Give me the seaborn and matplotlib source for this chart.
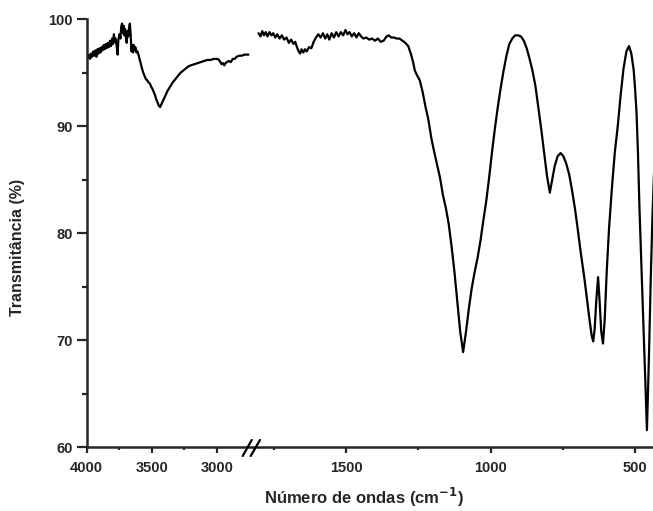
import matplotlib
matplotlib.use("Agg")
import matplotlib.pyplot as plt
import seaborn as sns
import pandas as pd
from matplotlib.lines import Line2D
from matplotlib.ticker import FixedLocator

# FTIR spectrum, high-wavenumber segment (cm-1, %T)
wn_high = [4000, 3990, 3980, 3972, 3964, 3956, 3948, 3940, 3932, 3924, 3916, 3908,
           3900, 3892, 3884, 3876, 3868, 3860, 3852, 3844, 3836, 3828, 3820, 3812,
           3804, 3796, 3790, 3784, 3778, 3770, 3762, 3756, 3748, 3740, 3734, 3728,
           3722, 3716, 3710, 3704, 3698, 3692, 3686, 3680, 3674, 3668, 3662, 3656,
           3650, 3644, 3638, 3632, 3626, 3618, 3610, 3602, 3594, 3585, 3575, 3565,
           3555, 3545, 3535, 3525, 3515, 3505, 3495, 3485, 3475, 3465, 3455, 3445,
           3436, 3425, 3410, 3395, 3380, 3360, 3340, 3320, 3300, 3280, 3260, 3240,
           3220, 3200, 3175, 3150, 3125, 3100, 3075, 3050, 3025, 3000, 2985, 2975,
           2965, 2955, 2945, 2935, 2925, 2910, 2895, 2880, 2865, 2850, 2830, 2810,
           2790, 2770, 2760]
t_high = [96.5, 96.4, 96.7, 96.3, 96.8, 96.5, 97.0, 96.6, 97.1, 96.5, 97.2, 96.8,
          97.3, 96.9, 97.4, 97.1, 97.6, 97.2, 97.7, 97.3, 97.8, 97.4, 98.0, 97.5,
          98.2, 97.7, 98.6, 97.9, 98.2, 97.6, 96.7, 98.1, 98.6, 98.2, 99.3, 99.6,
          98.7, 99.4, 98.5, 99.1, 98.3, 97.8, 98.9, 98.4, 99.2, 99.6, 98.6, 97.0,
          97.6, 96.9, 97.6, 97.1, 97.4, 96.9, 97.0, 96.7, 96.3, 95.9, 95.4, 95.0,
          94.7, 94.4, 94.3, 94.1, 94.0, 93.7, 93.5, 93.2, 92.9, 92.5, 92.2, 91.9,
          91.8, 92.1, 92.5, 92.9, 93.3, 93.7, 94.1, 94.4, 94.7, 95.0, 95.2, 95.4,
          95.6, 95.7, 95.8, 95.9, 96.0, 96.1, 96.2, 96.2, 96.3, 96.3, 96.2, 96.0,
          95.8, 95.9, 95.7, 95.9, 96.0, 96.1, 96.0, 96.3, 96.3, 96.5, 96.6, 96.6,
          96.7, 96.7, 96.7]

# FTIR spectrum, fingerprint segment (cm-1, %T)
wn_low = [1803, 1796, 1790, 1784, 1778, 1772, 1765, 1758, 1752, 1745, 1738, 1730,
          1722, 1714, 1706, 1698, 1690, 1682, 1676, 1670, 1664, 1659, 1654, 1648,
          1642, 1636, 1628, 1620, 1612, 1604, 1596, 1588, 1580, 1572, 1565, 1558,
          1550, 1542, 1534, 1526, 1518, 1510, 1502, 1495, 1488, 1480, 1472, 1464,
          1456, 1448, 1440, 1430, 1420, 1410, 1400, 1390, 1380, 1370, 1360, 1352,
          1344, 1335, 1325, 1315, 1305, 1295, 1285, 1276, 1268, 1262, 1255, 1245,
          1235, 1225, 1215, 1205, 1195, 1185, 1175, 1165, 1155, 1145, 1135, 1125,
          1115, 1105, 1095, 1085, 1075, 1065, 1055, 1045, 1035, 1025, 1015, 1005,
          995, 985, 975, 965, 955, 945, 935, 925, 915, 905, 895, 885, 875, 865,
          855, 845, 835, 825, 815, 805, 795, 787, 778, 768, 758, 748, 738, 728,
          718, 708, 698, 688, 678, 668, 658, 650, 645, 640, 634, 628, 623, 617,
          611, 605, 598, 590, 580, 570, 560, 550, 540, 530, 521, 513, 505, 500,
          495, 490, 485, 478, 471, 465, 459, 452, 446, 440, 434]
t_low = [98.7, 98.4, 98.9, 98.5, 98.8, 98.4, 98.8, 98.5, 98.7, 98.3, 98.6, 98.2,
         98.5, 98.1, 98.3, 97.8, 98.1, 97.7, 97.9, 97.4, 97.0, 96.8, 97.2, 96.9,
         97.2, 97.0, 97.4, 97.3, 97.9, 98.3, 98.6, 98.3, 98.7, 98.2, 98.6, 98.1,
         98.7, 98.3, 98.8, 98.4, 98.8, 98.5, 99.0, 98.6, 98.8, 98.4, 98.7, 98.3,
         98.7, 98.4, 98.2, 98.3, 98.1, 98.2, 98.0, 98.2, 97.9, 98.0, 98.4, 98.5,
         98.3, 98.3, 98.2, 98.2, 98.0, 97.8, 97.5, 96.8, 96.0, 95.2, 94.8, 94.3,
         93.2, 91.8, 90.6, 88.9, 87.6, 86.4, 85.2, 83.6, 82.4, 80.9, 78.8, 76.4,
         73.6, 70.8, 68.9, 70.8, 73.0, 74.9, 76.4, 77.7, 79.3, 81.2, 83.0, 85.2,
         87.6, 89.8, 91.8, 93.6, 95.2, 96.6, 97.7, 98.2, 98.5, 98.5, 98.4, 98.0,
         97.3, 96.3, 95.2, 93.8, 91.8, 89.8, 87.6, 85.4, 83.8, 85.0, 86.3, 87.2,
         87.5, 87.2, 86.5, 85.5, 84.0, 82.3, 80.3, 78.2, 76.3, 74.2, 72.0, 70.4,
         69.9, 71.0, 73.8, 75.9, 73.8, 70.8, 69.7, 72.0, 76.5, 80.5, 84.3, 87.6,
         90.0, 92.9, 95.4, 97.0, 97.5, 96.8, 95.3, 93.5, 91.3, 87.5, 82.5, 77.0,
         71.5, 66.5, 61.6, 68.5, 75.5, 81.5, 86.0]

y_ticks = [60, 70, 80, 90, 100]
x_ticks_high = [4000, 3500, 3000]
x_ticks_low = [1500, 1000, 500]

sns.set_theme(style="ticks")
plt.rcParams["font.family"] = ["Liberation Sans", "DejaVu Sans"]
plt.rcParams["font.weight"] = "bold"

W, H = 653, 511
fig = plt.figure(figsize=(W / 100, H / 100), dpi=100)
x0, xb, x1 = 86.5, 253.0, 653.0
ytop, ybot = 19.3, 447.3
bottom = 1 - ybot / H
height = (ybot - ytop) / H
ax1 = fig.add_axes([x0 / W, bottom, (xb - x0) / W, height])
ax2 = fig.add_axes([xb / W, bottom, (x1 - xb) / W, height])

df_high = pd.DataFrame({"wn": wn_high, "T": t_high})
df_low = pd.DataFrame({"wn": wn_low, "T": t_low})
line_kw = dict(color="black", linewidth=1.6, estimator=None, sort=False)
sns.lineplot(data=df_high, x="wn", y="T", ax=ax1, **line_kw)
sns.lineplot(data=df_low, x="wn", y="T", ax=ax2, **line_kw)

ax1.set_xlim(4000, 2725)
ax2.set_xlim(1822, 438)
for ax in (ax1, ax2):
    ax.set_ylim(60, 100)
    ax.set_xlabel("")
    ax.set_ylabel("")
    ax.set_facecolor("white")
    for s in ("top", "right"):
        ax.spines[s].set_visible(False)
    ax.spines["bottom"].set_linewidth(1.8)
    ax.spines["left"].set_linewidth(1.8)
    ax.tick_params(axis="x", which="major", direction="out", length=4, width=1.6,
                   labelsize=10.5, pad=6)
    ax.tick_params(axis="x", which="minor", direction="out", length=2.5, width=1.6)

ax1.set_xticks(x_ticks_high)
ax1.xaxis.set_minor_locator(FixedLocator([3750, 3250]))
ax2.set_xticks(x_ticks_low)
ax2.xaxis.set_minor_locator(FixedLocator([1750, 1250, 750]))

ax1.set_yticks(y_ticks)
ax1.yaxis.set_minor_locator(FixedLocator([65, 75, 85, 95]))
ax1.tick_params(axis="y", which="major", direction="out", length=7, width=1.6,
                labelsize=10.5, pad=3)
ax1.tick_params(axis="y", which="minor", direction="out", length=3.5, width=1.6)

ax2.spines["left"].set_visible(False)
ax2.tick_params(axis="y", which="both", left=False, labelleft=False)

for ax in (ax1, ax2):
    for lab in ax.get_xticklabels() + ax.get_yticklabels():
        lab.set_fontweight("bold")

# axis-break marks
for xs in ((242.7, 251.7), (250.7, 260.0)):
    fig.add_artist(Line2D([xs[0] / W, xs[1] / W], [1 - 456 / H, 1 - 440 / H],
                          color="black", linewidth=1.6, transform=fig.transFigure))

fig.text(18 / W, 1 - 247 / H, "Transmitância (%)", rotation=90, ha="center",
         va="center", fontsize=11.5, fontweight="bold")
fig.text(364 / W, 1 - 497 / H, "Número de ondas (cm$^{\\mathbf{-1}}$)", ha="center",
         va="center", fontsize=12, fontweight="bold")

fig.savefig("out.png", dpi=100, facecolor="white")
